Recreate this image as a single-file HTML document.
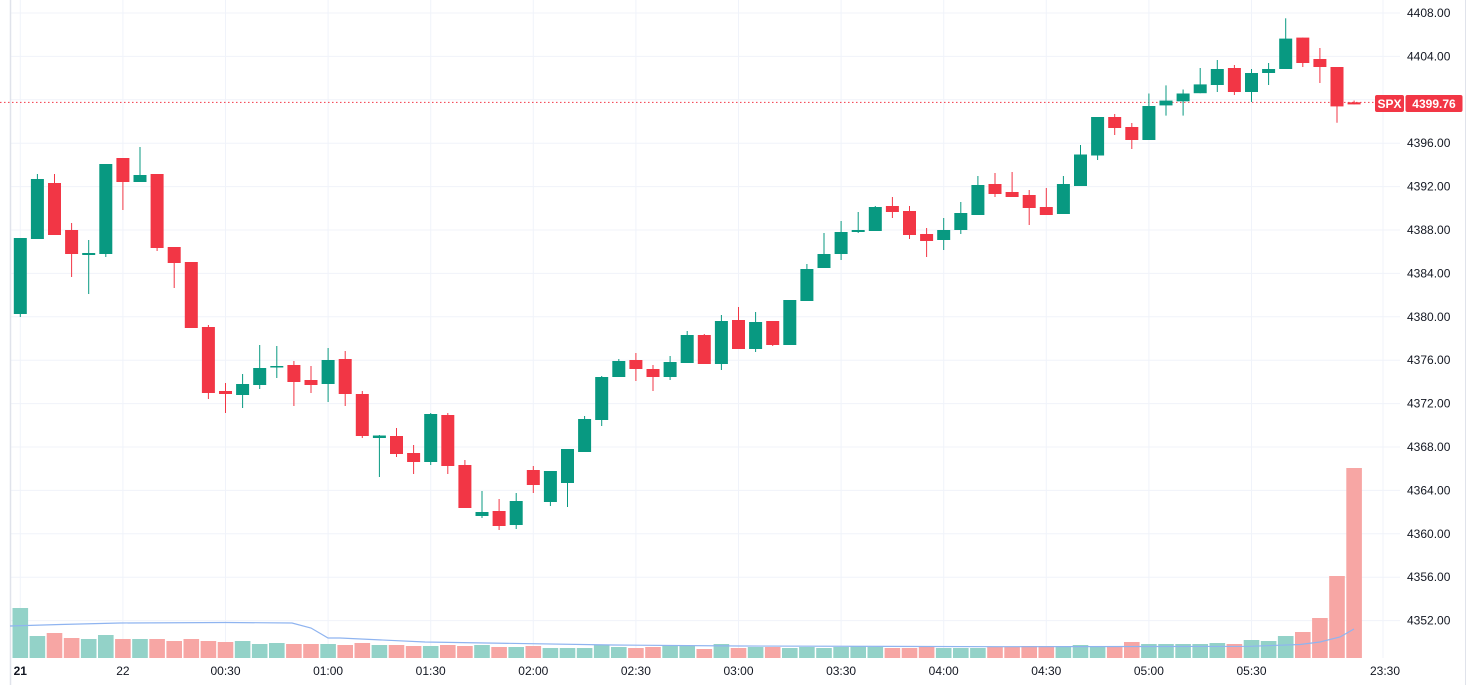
<!DOCTYPE html>
<html><head><meta charset="utf-8"><style>
html,body{margin:0;padding:0;background:#fff;}
svg{display:block;font-family:"Liberation Sans",sans-serif;}
</style></head><body>
<svg width="1469" height="685" viewBox="0 0 1469 685" xmlns="http://www.w3.org/2000/svg">
<rect width="1469" height="685" fill="#fff"/>
<g stroke="#f0f3fa" stroke-width="1">
<line x1="10" x2="1400" y1="13" y2="13"/><line x1="10" x2="1400" y1="56.4" y2="56.4"/><line x1="10" x2="1400" y1="99.8" y2="99.8"/><line x1="10" x2="1400" y1="143.2" y2="143.2"/><line x1="10" x2="1400" y1="186.6" y2="186.6"/><line x1="10" x2="1400" y1="230" y2="230"/><line x1="10" x2="1400" y1="273.4" y2="273.4"/><line x1="10" x2="1400" y1="316.8" y2="316.8"/><line x1="10" x2="1400" y1="360.2" y2="360.2"/><line x1="10" x2="1400" y1="403.6" y2="403.6"/><line x1="10" x2="1400" y1="447" y2="447"/><line x1="10" x2="1400" y1="490.4" y2="490.4"/><line x1="10" x2="1400" y1="533.8" y2="533.8"/><line x1="10" x2="1400" y1="577.2" y2="577.2"/><line x1="10" x2="1400" y1="620.6" y2="620.6"/>
<line y1="0" y2="658" x1="20.3" x2="20.3"/><line y1="0" y2="658" x1="122.9" x2="122.9"/><line y1="0" y2="658" x1="225.5" x2="225.5"/><line y1="0" y2="658" x1="328.1" x2="328.1"/><line y1="0" y2="658" x1="430.7" x2="430.7"/><line y1="0" y2="658" x1="533.3" x2="533.3"/><line y1="0" y2="658" x1="635.9" x2="635.9"/><line y1="0" y2="658" x1="738.5" x2="738.5"/><line y1="0" y2="658" x1="841.1" x2="841.1"/><line y1="0" y2="658" x1="943.7" x2="943.7"/><line y1="0" y2="658" x1="1046.3" x2="1046.3"/><line y1="0" y2="658" x1="1148.9" x2="1148.9"/><line y1="0" y2="658" x1="1251.5" x2="1251.5"/><line y1="0" y2="658" x1="1383" x2="1383"/>
</g>
<line x1="10.5" x2="10.5" y1="0" y2="685" stroke="#e0e3eb" stroke-width="1.5"/>
<line x1="1465.5" x2="1465.5" y1="0" y2="685" stroke="#e0e3eb" stroke-width="1"/>
<g id="vol">
<rect x="12.5" y="608" width="15.6" height="50" fill="#93d2c8"/><rect x="29.6" y="636" width="15.6" height="22" fill="#93d2c8"/><rect x="46.7" y="633" width="15.6" height="25" fill="#f7a6a4"/><rect x="63.8" y="638" width="15.6" height="20" fill="#f7a6a4"/><rect x="80.9" y="639" width="15.6" height="19" fill="#93d2c8"/><rect x="98" y="635" width="15.6" height="23" fill="#93d2c8"/><rect x="115.1" y="639" width="15.6" height="19" fill="#f7a6a4"/><rect x="132.2" y="639" width="15.6" height="19" fill="#93d2c8"/><rect x="149.3" y="639" width="15.6" height="19" fill="#f7a6a4"/><rect x="166.4" y="641" width="15.6" height="17" fill="#f7a6a4"/><rect x="183.5" y="639" width="15.6" height="19" fill="#f7a6a4"/><rect x="200.6" y="641" width="15.6" height="17" fill="#f7a6a4"/><rect x="217.7" y="642" width="15.6" height="16" fill="#f7a6a4"/><rect x="234.8" y="641" width="15.6" height="17" fill="#93d2c8"/><rect x="251.9" y="644" width="15.6" height="14" fill="#93d2c8"/><rect x="269" y="643" width="15.6" height="15" fill="#93d2c8"/><rect x="286.1" y="644" width="15.6" height="14" fill="#f7a6a4"/><rect x="303.2" y="644" width="15.6" height="14" fill="#f7a6a4"/><rect x="320.3" y="644" width="15.6" height="14" fill="#93d2c8"/><rect x="337.4" y="645" width="15.6" height="13" fill="#f7a6a4"/><rect x="354.5" y="643" width="15.6" height="15" fill="#f7a6a4"/><rect x="371.6" y="645" width="15.6" height="13" fill="#93d2c8"/><rect x="388.7" y="645" width="15.6" height="13" fill="#f7a6a4"/><rect x="405.8" y="646" width="15.6" height="12" fill="#f7a6a4"/><rect x="422.9" y="646" width="15.6" height="12" fill="#93d2c8"/><rect x="440" y="645" width="15.6" height="13" fill="#f7a6a4"/><rect x="457.1" y="646" width="15.6" height="12" fill="#f7a6a4"/><rect x="474.2" y="645" width="15.6" height="13" fill="#93d2c8"/><rect x="491.3" y="647" width="15.6" height="11" fill="#f7a6a4"/><rect x="508.4" y="647" width="15.6" height="11" fill="#93d2c8"/><rect x="525.5" y="646" width="15.6" height="12" fill="#f7a6a4"/><rect x="542.6" y="648" width="15.6" height="10" fill="#93d2c8"/><rect x="559.7" y="648" width="15.6" height="10" fill="#93d2c8"/><rect x="576.8" y="648" width="15.6" height="10" fill="#93d2c8"/><rect x="593.9" y="645" width="15.6" height="13" fill="#93d2c8"/><rect x="611" y="647" width="15.6" height="11" fill="#93d2c8"/><rect x="628.1" y="648" width="15.6" height="10" fill="#f7a6a4"/><rect x="645.2" y="647" width="15.6" height="11" fill="#f7a6a4"/><rect x="662.3" y="646" width="15.6" height="12" fill="#93d2c8"/><rect x="679.4" y="646" width="15.6" height="12" fill="#93d2c8"/><rect x="696.5" y="649" width="15.6" height="9" fill="#f7a6a4"/><rect x="713.6" y="644" width="15.6" height="14" fill="#93d2c8"/><rect x="730.7" y="648" width="15.6" height="10" fill="#f7a6a4"/><rect x="747.8" y="647" width="15.6" height="11" fill="#93d2c8"/><rect x="764.9" y="647" width="15.6" height="11" fill="#f7a6a4"/><rect x="782" y="648" width="15.6" height="10" fill="#93d2c8"/><rect x="799.1" y="647" width="15.6" height="11" fill="#93d2c8"/><rect x="816.2" y="648" width="15.6" height="10" fill="#93d2c8"/><rect x="833.3" y="647" width="15.6" height="11" fill="#93d2c8"/><rect x="850.4" y="646" width="15.6" height="12" fill="#93d2c8"/><rect x="867.5" y="647" width="15.6" height="11" fill="#93d2c8"/><rect x="884.6" y="648" width="15.6" height="10" fill="#f7a6a4"/><rect x="901.7" y="648" width="15.6" height="10" fill="#f7a6a4"/><rect x="918.8" y="647" width="15.6" height="11" fill="#f7a6a4"/><rect x="935.9" y="648" width="15.6" height="10" fill="#93d2c8"/><rect x="953" y="648" width="15.6" height="10" fill="#93d2c8"/><rect x="970.1" y="648" width="15.6" height="10" fill="#93d2c8"/><rect x="987.2" y="647" width="15.6" height="11" fill="#f7a6a4"/><rect x="1004.3" y="647" width="15.6" height="11" fill="#f7a6a4"/><rect x="1021.4" y="646" width="15.6" height="12" fill="#f7a6a4"/><rect x="1038.5" y="646" width="15.6" height="12" fill="#f7a6a4"/><rect x="1055.6" y="646" width="15.6" height="12" fill="#93d2c8"/><rect x="1072.7" y="645" width="15.6" height="13" fill="#93d2c8"/><rect x="1089.8" y="646" width="15.6" height="12" fill="#93d2c8"/><rect x="1106.9" y="647" width="15.6" height="11" fill="#f7a6a4"/><rect x="1124" y="642" width="15.6" height="16" fill="#f7a6a4"/><rect x="1141.1" y="644" width="15.6" height="14" fill="#93d2c8"/><rect x="1158.2" y="644" width="15.6" height="14" fill="#93d2c8"/><rect x="1175.3" y="644" width="15.6" height="14" fill="#93d2c8"/><rect x="1192.4" y="644" width="15.6" height="14" fill="#93d2c8"/><rect x="1209.5" y="643" width="15.6" height="15" fill="#93d2c8"/><rect x="1226.6" y="644" width="15.6" height="14" fill="#f7a6a4"/><rect x="1243.7" y="640" width="15.6" height="18" fill="#93d2c8"/><rect x="1260.8" y="641" width="15.6" height="17" fill="#93d2c8"/><rect x="1277.9" y="636" width="15.6" height="22" fill="#93d2c8"/><rect x="1295" y="632" width="15.6" height="26" fill="#f7a6a4"/><rect x="1312.1" y="618" width="15.6" height="40" fill="#f7a6a4"/><rect x="1329.2" y="576" width="15.6" height="82" fill="#f7a6a4"/><rect x="1346.3" y="468" width="15.6" height="190" fill="#f7a6a4"/>
</g>
<polyline fill="none" stroke="#8fb4f0" stroke-width="1.2" points="10,626 60,624.5 120,623 226,622.5 292,623 311,628 328,638 340,638 425,642 613,645 740,646 1000,646.7 1250,646.3 1300,644.5 1320,642 1340,637 1354,629"/>
<line x1="0" x2="1400" y1="102.4" y2="102.4" stroke="#f23645" stroke-width="1" stroke-dasharray="1.5,2.5"/>
<g stroke-width="1">
<line x1="20.3" x2="20.3" y1="238" y2="317" stroke="#089981"/><rect x="13.8" y="238" width="13" height="76" fill="#089981"/>
<line x1="37.4" x2="37.4" y1="174" y2="239" stroke="#089981"/><rect x="30.9" y="179" width="13" height="60" fill="#089981"/>
<line x1="54.5" x2="54.5" y1="174" y2="235" stroke="#f23645"/><rect x="48" y="183" width="13" height="52" fill="#f23645"/>
<line x1="71.6" x2="71.6" y1="223" y2="277" stroke="#f23645"/><rect x="65.1" y="230" width="13" height="24" fill="#f23645"/>
<line x1="88.7" x2="88.7" y1="240" y2="294" stroke="#089981"/><rect x="82.2" y="253" width="13" height="2" fill="#089981"/>
<line x1="105.8" x2="105.8" y1="164" y2="257" stroke="#089981"/><rect x="99.3" y="164" width="13" height="90" fill="#089981"/>
<line x1="122.9" x2="122.9" y1="158" y2="210" stroke="#f23645"/><rect x="116.4" y="158" width="13" height="24" fill="#f23645"/>
<line x1="140" x2="140" y1="147" y2="182" stroke="#089981"/><rect x="133.5" y="175" width="13" height="7" fill="#089981"/>
<line x1="157.1" x2="157.1" y1="174" y2="251" stroke="#f23645"/><rect x="150.6" y="174" width="13" height="74" fill="#f23645"/>
<line x1="174.2" x2="174.2" y1="247" y2="288" stroke="#f23645"/><rect x="167.7" y="247" width="13" height="16" fill="#f23645"/>
<line x1="191.3" x2="191.3" y1="262" y2="328" stroke="#f23645"/><rect x="184.8" y="262" width="13" height="66" fill="#f23645"/>
<line x1="208.4" x2="208.4" y1="325" y2="399" stroke="#f23645"/><rect x="201.9" y="327" width="13" height="66" fill="#f23645"/>
<line x1="225.5" x2="225.5" y1="383" y2="413" stroke="#f23645"/><rect x="219" y="391" width="13" height="3" fill="#f23645"/>
<line x1="242.6" x2="242.6" y1="374" y2="408" stroke="#089981"/><rect x="236.1" y="384" width="13" height="11" fill="#089981"/>
<line x1="259.7" x2="259.7" y1="345" y2="389" stroke="#089981"/><rect x="253.2" y="368" width="13" height="17" fill="#089981"/>
<line x1="276.8" x2="276.8" y1="346" y2="378" stroke="#089981"/><rect x="270.3" y="366" width="13" height="1.5" fill="#089981"/>
<line x1="293.9" x2="293.9" y1="361" y2="406" stroke="#f23645"/><rect x="287.4" y="365" width="13" height="17" fill="#f23645"/>
<line x1="311" x2="311" y1="366" y2="393" stroke="#f23645"/><rect x="304.5" y="380" width="13" height="5" fill="#f23645"/>
<line x1="328.1" x2="328.1" y1="348" y2="402" stroke="#089981"/><rect x="321.6" y="360" width="13" height="24" fill="#089981"/>
<line x1="345.2" x2="345.2" y1="351" y2="406" stroke="#f23645"/><rect x="338.7" y="359" width="13" height="35" fill="#f23645"/>
<line x1="362.3" x2="362.3" y1="391" y2="438" stroke="#f23645"/><rect x="355.8" y="394" width="13" height="42" fill="#f23645"/>
<line x1="379.4" x2="379.4" y1="435" y2="477" stroke="#089981"/><rect x="372.9" y="435.5" width="13" height="2.5" fill="#089981"/>
<line x1="396.5" x2="396.5" y1="428" y2="457" stroke="#f23645"/><rect x="390" y="436" width="13" height="18" fill="#f23645"/>
<line x1="413.6" x2="413.6" y1="445" y2="474" stroke="#f23645"/><rect x="407.1" y="453" width="13" height="9" fill="#f23645"/>
<line x1="430.7" x2="430.7" y1="413" y2="465" stroke="#089981"/><rect x="424.2" y="414" width="13" height="48" fill="#089981"/>
<line x1="447.8" x2="447.8" y1="413" y2="474" stroke="#f23645"/><rect x="441.3" y="415" width="13" height="51" fill="#f23645"/>
<line x1="464.9" x2="464.9" y1="460" y2="508" stroke="#f23645"/><rect x="458.4" y="465" width="13" height="43" fill="#f23645"/>
<line x1="482" x2="482" y1="491" y2="518" stroke="#089981"/><rect x="475.5" y="512" width="13" height="4" fill="#089981"/>
<line x1="499.1" x2="499.1" y1="499" y2="530" stroke="#f23645"/><rect x="492.6" y="511" width="13" height="15" fill="#f23645"/>
<line x1="516.2" x2="516.2" y1="493" y2="529" stroke="#089981"/><rect x="509.7" y="501" width="13" height="24" fill="#089981"/>
<line x1="533.3" x2="533.3" y1="466" y2="493" stroke="#f23645"/><rect x="526.8" y="470" width="13" height="15" fill="#f23645"/>
<line x1="550.4" x2="550.4" y1="471" y2="506" stroke="#089981"/><rect x="543.9" y="471" width="13" height="31" fill="#089981"/>
<line x1="567.5" x2="567.5" y1="449" y2="507" stroke="#089981"/><rect x="561" y="449" width="13" height="34" fill="#089981"/>
<line x1="584.6" x2="584.6" y1="416" y2="452" stroke="#089981"/><rect x="578.1" y="419" width="13" height="33" fill="#089981"/>
<line x1="601.7" x2="601.7" y1="376" y2="426" stroke="#089981"/><rect x="595.2" y="377" width="13" height="43" fill="#089981"/>
<line x1="618.8" x2="618.8" y1="359" y2="377" stroke="#089981"/><rect x="612.3" y="361" width="13" height="16" fill="#089981"/>
<line x1="635.9" x2="635.9" y1="353" y2="381" stroke="#f23645"/><rect x="629.4" y="360" width="13" height="9" fill="#f23645"/>
<line x1="653" x2="653" y1="365" y2="391" stroke="#f23645"/><rect x="646.5" y="369" width="13" height="8" fill="#f23645"/>
<line x1="670.1" x2="670.1" y1="356" y2="380" stroke="#089981"/><rect x="663.6" y="362" width="13" height="15" fill="#089981"/>
<line x1="687.2" x2="687.2" y1="331" y2="363" stroke="#089981"/><rect x="680.7" y="335" width="13" height="28" fill="#089981"/>
<line x1="704.3" x2="704.3" y1="334" y2="364" stroke="#f23645"/><rect x="697.8" y="335" width="13" height="29" fill="#f23645"/>
<line x1="721.4" x2="721.4" y1="315" y2="370" stroke="#089981"/><rect x="714.9" y="321" width="13" height="43" fill="#089981"/>
<line x1="738.5" x2="738.5" y1="307" y2="349" stroke="#f23645"/><rect x="732" y="320" width="13" height="29" fill="#f23645"/>
<line x1="755.6" x2="755.6" y1="312" y2="352" stroke="#089981"/><rect x="749.1" y="322" width="13" height="27" fill="#089981"/>
<line x1="772.7" x2="772.7" y1="321" y2="346" stroke="#f23645"/><rect x="766.2" y="321" width="13" height="24" fill="#f23645"/>
<line x1="789.8" x2="789.8" y1="300" y2="345" stroke="#089981"/><rect x="783.3" y="300" width="13" height="45" fill="#089981"/>
<line x1="806.9" x2="806.9" y1="264" y2="301" stroke="#089981"/><rect x="800.4" y="269" width="13" height="32" fill="#089981"/>
<line x1="824" x2="824" y1="233" y2="268" stroke="#089981"/><rect x="817.5" y="254" width="13" height="14" fill="#089981"/>
<line x1="841.1" x2="841.1" y1="221" y2="260" stroke="#089981"/><rect x="834.6" y="232" width="13" height="22" fill="#089981"/>
<line x1="858.2" x2="858.2" y1="212" y2="233" stroke="#089981"/><rect x="851.7" y="230" width="13" height="2" fill="#089981"/>
<line x1="875.3" x2="875.3" y1="206" y2="231" stroke="#089981"/><rect x="868.8" y="207" width="13" height="24" fill="#089981"/>
<line x1="892.4" x2="892.4" y1="197" y2="218" stroke="#f23645"/><rect x="885.9" y="206" width="13" height="6" fill="#f23645"/>
<line x1="909.5" x2="909.5" y1="206" y2="239" stroke="#f23645"/><rect x="903" y="211" width="13" height="24" fill="#f23645"/>
<line x1="926.6" x2="926.6" y1="228" y2="257" stroke="#f23645"/><rect x="920.1" y="234" width="13" height="7" fill="#f23645"/>
<line x1="943.7" x2="943.7" y1="218" y2="250" stroke="#089981"/><rect x="937.2" y="230" width="13" height="10" fill="#089981"/>
<line x1="960.8" x2="960.8" y1="202" y2="234" stroke="#089981"/><rect x="954.3" y="213" width="13" height="17" fill="#089981"/>
<line x1="977.9" x2="977.9" y1="176" y2="215" stroke="#089981"/><rect x="971.4" y="185" width="13" height="30" fill="#089981"/>
<line x1="995" x2="995" y1="173" y2="197" stroke="#f23645"/><rect x="988.5" y="184" width="13" height="10" fill="#f23645"/>
<line x1="1012.1" x2="1012.1" y1="172" y2="197" stroke="#f23645"/><rect x="1005.6" y="192" width="13" height="5" fill="#f23645"/>
<line x1="1029.2" x2="1029.2" y1="190" y2="225" stroke="#f23645"/><rect x="1022.7" y="195" width="13" height="13" fill="#f23645"/>
<line x1="1046.3" x2="1046.3" y1="188" y2="215" stroke="#f23645"/><rect x="1039.8" y="207" width="13" height="8" fill="#f23645"/>
<line x1="1063.4" x2="1063.4" y1="176" y2="214" stroke="#089981"/><rect x="1056.9" y="184" width="13" height="30" fill="#089981"/>
<line x1="1080.5" x2="1080.5" y1="145" y2="186" stroke="#089981"/><rect x="1074" y="154.5" width="13" height="31.5" fill="#089981"/>
<line x1="1097.6" x2="1097.6" y1="117" y2="160" stroke="#089981"/><rect x="1091.1" y="117" width="13" height="38.5" fill="#089981"/>
<line x1="1114.7" x2="1114.7" y1="114" y2="135" stroke="#f23645"/><rect x="1108.2" y="117" width="13" height="11" fill="#f23645"/>
<line x1="1131.8" x2="1131.8" y1="123" y2="149" stroke="#f23645"/><rect x="1125.3" y="127" width="13" height="13" fill="#f23645"/>
<line x1="1148.9" x2="1148.9" y1="93.5" y2="140" stroke="#089981"/><rect x="1142.4" y="106" width="13" height="34" fill="#089981"/>
<line x1="1166" x2="1166" y1="85.4" y2="115.6" stroke="#089981"/><rect x="1159.5" y="100.6" width="13" height="4.8" fill="#089981"/>
<line x1="1183.1" x2="1183.1" y1="89.5" y2="115.6" stroke="#089981"/><rect x="1176.6" y="93.5" width="13" height="7.8" fill="#089981"/>
<line x1="1200.2" x2="1200.2" y1="68" y2="93.2" stroke="#089981"/><rect x="1193.7" y="84.4" width="13" height="8.8" fill="#089981"/>
<line x1="1217.3" x2="1217.3" y1="60" y2="92" stroke="#089981"/><rect x="1210.8" y="69" width="13" height="16" fill="#089981"/>
<line x1="1234.4" x2="1234.4" y1="65" y2="95" stroke="#f23645"/><rect x="1227.9" y="68" width="13" height="24" fill="#f23645"/>
<line x1="1251.5" x2="1251.5" y1="69" y2="102" stroke="#089981"/><rect x="1245" y="73" width="13" height="19" fill="#089981"/>
<line x1="1268.6" x2="1268.6" y1="63" y2="85" stroke="#089981"/><rect x="1262.1" y="69" width="13" height="4" fill="#089981"/>
<line x1="1285.7" x2="1285.7" y1="18.3" y2="69" stroke="#089981"/><rect x="1279.2" y="38.6" width="13" height="30.4" fill="#089981"/>
<line x1="1302.8" x2="1302.8" y1="37.6" y2="67" stroke="#f23645"/><rect x="1296.3" y="37.6" width="13" height="25.4" fill="#f23645"/>
<line x1="1319.9" x2="1319.9" y1="48" y2="83" stroke="#f23645"/><rect x="1313.4" y="59" width="13" height="8" fill="#f23645"/>
<line x1="1337" x2="1337" y1="67" y2="122.7" stroke="#f23645"/><rect x="1330.5" y="67" width="13" height="39.4" fill="#f23645"/>
<line x1="1354.1" x2="1354.1" y1="100.6" y2="104.4" stroke="#f23645"/><rect x="1347.6" y="102.3" width="13" height="2.1" fill="#f23645"/>
</g>
<rect x="1400" y="0" width="65" height="660" fill="#fff"/>
<g font-size="12" fill="#131722">
<text x="1407" y="17">4408.00</text><text x="1407" y="60.4">4404.00</text><text x="1407" y="147.2">4396.00</text><text x="1407" y="190.6">4392.00</text><text x="1407" y="234">4388.00</text><text x="1407" y="277.4">4384.00</text><text x="1407" y="320.8">4380.00</text><text x="1407" y="364.2">4376.00</text><text x="1407" y="407.6">4372.00</text><text x="1407" y="451">4368.00</text><text x="1407" y="494.4">4364.00</text><text x="1407" y="537.8">4360.00</text><text x="1407" y="581.2">4356.00</text><text x="1407" y="624.6">4352.00</text>
</g>
<rect x="1375" y="95" width="29" height="17" rx="2" fill="#f23645"/>
<rect x="1405.5" y="95" width="57" height="17" rx="2" fill="#f23645"/>
<text x="1389.5" y="108" font-size="12" fill="#fff" text-anchor="middle" font-weight="bold">SPX</text>
<text x="1434" y="108" font-size="12" fill="#fff" text-anchor="middle" font-weight="bold">4399.76</text>
<svg x="0" y="658" width="1400" height="27">
<g font-size="12" fill="#131722" text-anchor="middle">
<text x="20.3" y="17" font-weight="bold">21</text><text x="122.9" y="17">22</text><text x="225.5" y="17">00:30</text><text x="328.1" y="17">01:00</text><text x="430.7" y="17">01:30</text><text x="533.3" y="17">02:00</text><text x="635.9" y="17">02:30</text><text x="738.5" y="17">03:00</text><text x="841.1" y="17">03:30</text><text x="943.7" y="17">04:00</text><text x="1046.3" y="17">04:30</text><text x="1148.9" y="17">05:00</text><text x="1251.5" y="17">05:30</text><text x="1385" y="17">23:30</text>
</g>
</svg>
</svg>
</body></html>
